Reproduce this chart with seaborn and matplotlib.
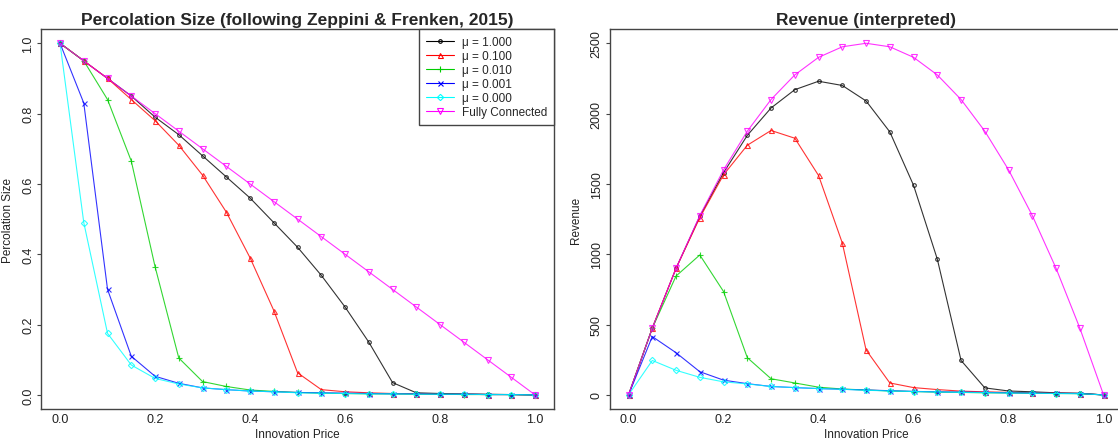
import numpy as np
import pandas as pd
import matplotlib
matplotlib.use("Agg")
import matplotlib.pyplot as plt
import seaborn as sns

price = [0.00, 0.05, 0.10, 0.15, 0.20, 0.25, 0.30, 0.35, 0.40, 0.45, 0.50,
         0.55, 0.60, 0.65, 0.70, 0.75, 0.80, 0.85, 0.90, 0.95, 1.00]

series_names = ["\u03bc = 1.000", "\u03bc = 0.100", "\u03bc = 0.010",
                "\u03bc = 0.001", "\u03bc = 0.000", "Fully Connected"]

size_mu1 = [1.00, 0.95, 0.90, 0.85, 0.79, 0.74, 0.68, 0.62, 0.56, 0.49, 0.42,
            0.34, 0.25, 0.15, 0.035, 0.006, 0.004, 0.003, 0.002, 0.001, 0.000]
size_mu01 = [1.00, 0.95, 0.90, 0.84, 0.78, 0.71, 0.625, 0.52, 0.39, 0.24, 0.063,
             0.015, 0.009, 0.006, 0.004, 0.003, 0.002, 0.002, 0.001, 0.001, 0.000]
size_mu001 = [1.00, 0.95, 0.84, 0.665, 0.365, 0.105, 0.038, 0.024, 0.014, 0.010, 0.007,
              0.005, 0.004, 0.003, 0.003, 0.002, 0.002, 0.001, 0.001, 0.001, 0.000]
size_mu0001 = [1.00, 0.83, 0.30, 0.11, 0.053, 0.033, 0.020, 0.015, 0.011, 0.009, 0.007,
               0.006, 0.005, 0.004, 0.003, 0.003, 0.002, 0.002, 0.001, 0.001, 0.000]
size_mu0 = [1.00, 0.49, 0.175, 0.085, 0.047, 0.031, 0.020, 0.015, 0.011, 0.009, 0.006,
            0.005, 0.004, 0.003, 0.003, 0.002, 0.002, 0.002, 0.001, 0.001, 0.000]
size_full = [1.00, 0.95, 0.90, 0.85, 0.80, 0.75, 0.70, 0.65, 0.60, 0.55, 0.50,
             0.45, 0.40, 0.35, 0.30, 0.25, 0.20, 0.15, 0.10, 0.05, 0.00]

rev_mu1 = [0, 475, 900, 1270, 1580, 1845, 2040, 2170, 2230, 2200, 2090,
           1870, 1490, 965, 245, 50, 28, 22, 15, 12, 0]
rev_mu01 = [0, 475, 900, 1260, 1565, 1775, 1880, 1825, 1560, 1080, 320,
            85, 52, 38, 27, 22, 18, 15, 12, 10, 0]
rev_mu001 = [0, 475, 845, 995, 735, 265, 115, 85, 55, 42, 35,
             28, 24, 20, 18, 15, 14, 12, 10, 9, 0]
rev_mu0001 = [0, 415, 300, 165, 105, 80, 60, 52, 45, 40, 35,
              30, 25, 22, 20, 18, 15, 13, 11, 10, 0]
rev_mu0 = [0, 245, 175, 125, 93, 78, 60, 52, 45, 40, 33,
           28, 24, 21, 18, 16, 14, 12, 10, 9, 0]
rev_full = [0, 475, 900, 1275, 1600, 1875, 2100, 2275, 2400, 2475, 2500,
            2475, 2400, 2275, 2100, 1875, 1600, 1275, 900, 475, 0]

sizes = [size_mu1, size_mu01, size_mu001, size_mu0001, size_mu0, size_full]
revs = [rev_mu1, rev_mu01, rev_mu001, rev_mu0001, rev_mu0, rev_full]

colors = ["#000000", "#FF0000", "#00CD00", "#0000FF", "#00FFFF", "#FF00FF"]
markers = ["o", "^", "+", "x", "D", "v"]
msizes = [2.6, 3.6, 4.5, 3.6, 3.2, 3.8]

sns.set_style("ticks")
plt.rcParams["font.family"] = ["Liberation Sans", "DejaVu Sans"]

fig = plt.figure(figsize=(11.18, 4.39), dpi=100)
ax1 = fig.add_axes([0.0367, 0.0661, 0.4589, 0.8651])
ax2 = fig.add_axes([0.5452, 0.0661, 0.4589, 0.8651])

def draw(ax, ys, title, ylabel, ymax, yticks, yticklabels):
    for name, y, c, m, ms in zip(series_names, ys, colors, markers, msizes):
        df = pd.DataFrame({"price": price, "val": y})
        sns.lineplot(data=df, x="price", y="val", ax=ax, color=c, lw=0.8,
                     marker=m, markersize=ms, markerfacecolor="none",
                     markeredgecolor=c, markeredgewidth=0.8, label=name,
                     alpha=0.8)
    ax.set_xlim(-0.04, 1.04)
    ax.set_ylim(-0.04 * ymax, 1.04 * ymax)
    ax.set_xticks([0, 0.2, 0.4, 0.6, 0.8, 1.0])
    ax.set_xticklabels(["0.0", "0.2", "0.4", "0.6", "0.8", "1.0"])
    ax.set_yticks(yticks)
    ax.set_yticklabels(yticklabels, rotation=90, va="center")
    ax.set_title(title, fontsize=12.5, fontweight="bold", pad=4)
    ax.set_xlabel("Innovation Price", fontsize=8.5, labelpad=2, color="#222222")
    ax.set_ylabel(ylabel, fontsize=8.5, labelpad=6, color="#222222")
    ax.tick_params(axis="both", labelsize=9, width=0.8, color="#444444",
                   labelcolor="#222222")
    ax.tick_params(axis="x", length=0, pad=3)
    ax.tick_params(axis="y", length=3, pad=2)
    for s in ax.spines.values():
        s.set_visible(True)
        s.set_linewidth(1.0)
        s.set_color("#444444")

draw(ax1, sizes, "Percolation Size (following Zeppini & Frenken, 2015)",
     "Percolation Size", 1.0, [0, 0.2, 0.4, 0.6, 0.8, 1.0],
     ["0.0", "0.2", "0.4", "0.6", "0.8", "1.0"])

draw(ax2, revs, "Revenue (interpreted)", "Revenue", 2500,
     [0, 500, 1000, 1500, 2000, 2500],
     ["0", "500", "1000", "1500", "2000", "2500"])
ax2.get_legend().remove()

leg = ax1.legend(loc="upper right", fontsize=8.5, frameon=True, fancybox=False,
                 edgecolor="#444444", borderaxespad=0, handlelength=2.4,
                 labelspacing=0.18, borderpad=0.55, handletextpad=0.7,
                 framealpha=1.0)
leg.get_frame().set_linewidth(1.0)
for h in leg.legend_handles:
    h.set_alpha(1.0)

fig.savefig("out.png", dpi=100)
